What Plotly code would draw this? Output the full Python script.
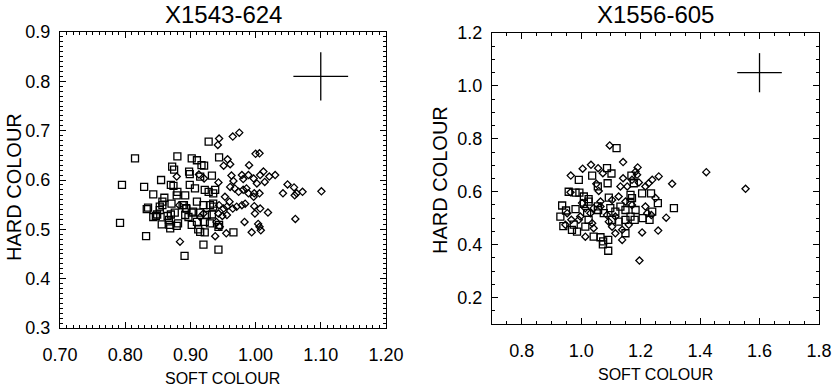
import plotly.graph_objects as go

# ---- X1543-624 (left) ----
left_sq_x = [0.815, 0.880, 0.795, 0.829, 0.843, 0.855, 0.872, 0.875, 0.870, 0.874, 0.899, 0.860,
             0.857, 0.835, 0.833, 0.849, 0.853, 0.847, 0.865, 0.870, 0.876, 0.867, 0.792, 0.832,
             0.891, 0.880, 0.892, 0.888, 0.893, 0.857, 0.856, 0.868, 0.869, 0.879, 0.881, 0.892,
             0.897, 0.902, 0.902, 0.890, 0.894, 0.853, 0.843, 0.871, 0.879, 0.899, 0.898,
             0.928, 0.944, 0.910, 0.917, 0.921, 0.933, 0.915, 0.907, 0.922, 0.928, 0.935, 0.938,
             0.910, 0.920, 0.930, 0.935, 0.904, 0.915, 0.925, 0.933, 0.910, 0.922, 0.930, 0.944,
             0.912, 0.915, 0.922, 0.943, 0.966, 0.920, 0.943, 0.902, 0.935]
left_sq_y = [0.644, 0.648, 0.590, 0.586, 0.571, 0.600, 0.627, 0.621, 0.590, 0.588, 0.612, 0.564,
             0.556, 0.544, 0.541, 0.530, 0.539, 0.527, 0.527, 0.530, 0.534, 0.519, 0.513, 0.486,
             0.446, 0.576, 0.569, 0.549, 0.543, 0.549, 0.510, 0.509, 0.502, 0.507, 0.512, 0.529,
             0.525, 0.509, 0.534, 0.549, 0.542, 0.546, 0.525, 0.552, 0.569, 0.590, 0.617,
             0.678, 0.646, 0.640, 0.630, 0.629, 0.609, 0.607, 0.583, 0.580, 0.576, 0.573, 0.580,
             0.556, 0.549, 0.549, 0.552, 0.536, 0.534, 0.529, 0.530, 0.515, 0.515, 0.512, 0.509,
             0.500, 0.495, 0.494, 0.505, 0.494, 0.469, 0.459, 0.644, 0.546]

left_di_x = [0.944, 0.942, 0.965, 0.975, 1.000, 1.006, 0.957, 0.961, 0.951, 0.990, 0.913, 0.921,
             0.963, 0.966, 0.979, 0.981, 0.989, 0.997, 1.007, 1.012, 1.021, 1.030, 1.049, 1.059,
             1.072, 1.060, 1.063, 1.042, 1.101, 1.061, 0.998, 1.007, 1.019, 0.983, 1.004, 1.006,
             1.008, 0.994, 0.938, 0.884, 0.879, 0.883, 0.961, 0.968, 0.974, 0.981, 0.986, 0.989,
             0.998, 1.006, 0.997, 1.014, 1.002, 0.943, 0.953, 0.960, 0.944, 0.951, 0.956, 0.965,
             0.971, 0.979, 0.984, 0.999, 0.943, 0.949, 0.940, 0.956, 0.955, 0.945, 0.915, 0.920]
left_di_y = [0.684, 0.671, 0.688, 0.696, 0.653, 0.654, 0.642, 0.632, 0.629, 0.630, 0.611, 0.603,
             0.609, 0.598, 0.610, 0.602, 0.610, 0.603, 0.610, 0.617, 0.607, 0.610, 0.591, 0.585,
             0.576, 0.569, 0.573, 0.573, 0.577, 0.521, 0.547, 0.542, 0.534, 0.515, 0.511, 0.505,
             0.498, 0.494, 0.486, 0.475, 0.607, 0.549, 0.586, 0.583, 0.576, 0.580, 0.583, 0.573,
             0.573, 0.573, 0.566, 0.596, 0.593, 0.595, 0.566, 0.556, 0.549, 0.542, 0.546, 0.542,
             0.546, 0.549, 0.552, 0.532, 0.532, 0.527, 0.515, 0.529, 0.492, 0.505, 0.525, 0.532]

left_err = dict(x=1.10, y=0.81, dx=0.042, dy=0.049)

# ---- X1556-605 (right) ----
right_sq_x = [1.119, 1.087, 1.037, 1.102, 0.992, 0.981, 0.994, 1.009, 1.025, 0.936, 0.930, 0.949,
              0.969, 0.986, 0.981, 1.009, 1.025, 1.014, 1.025, 1.042, 1.065, 1.073, 1.091, 1.091,
              1.089, 1.093, 1.056, 1.057, 1.076, 1.098, 1.115, 1.132, 1.149, 1.126, 1.104, 1.149,
              1.166, 1.169, 1.177, 1.166, 1.171, 1.166, 1.183, 1.180, 1.205, 1.235, 1.207, 1.230,
              1.239, 1.258, 1.312, 1.149, 0.958, 0.940, 0.975, 1.074, 1.056, 1.020]
right_sq_y = [0.765, 0.689, 0.661, 0.669, 0.645, 0.597, 0.597, 0.582, 0.572, 0.548, 0.506, 0.529,
              0.456, 0.449, 0.534, 0.554, 0.563, 0.468, 0.494, 0.430, 0.428, 0.401, 0.418, 0.377,
              0.632, 0.578, 0.620, 0.531, 0.519, 0.538, 0.525, 0.544, 0.531, 0.487, 0.494, 0.494,
              0.506, 0.661, 0.632, 0.588, 0.576, 0.557, 0.531, 0.494, 0.594, 0.594, 0.500, 0.494,
              0.525, 0.557, 0.538, 0.443, 0.600, 0.470, 0.476, 0.412, 0.545, 0.520]

right_di_x = [1.096, 1.141, 1.005, 1.033, 1.057, 1.073, 0.965, 0.964, 1.051, 1.059, 1.065, 1.141,
              1.190, 1.183, 1.188, 1.171, 1.194, 1.216, 1.227, 1.239, 1.261, 1.250, 1.306, 1.286,
              1.259, 1.236, 1.205, 1.196, 1.421, 1.553, 1.138, 1.115, 1.014, 0.953, 0.967, 0.947,
              1.003, 1.014, 1.037, 1.042, 1.104, 1.126, 1.149, 1.171, 1.104, 1.138, 1.160, 1.216,
              1.222, 1.065, 1.087, 0.992, 0.997, 1.132, 1.155, 1.115, 1.093, 1.031, 1.042]
right_di_y = [0.775, 0.712, 0.687, 0.702, 0.689, 0.670, 0.661, 0.598, 0.630, 0.603, 0.563, 0.651,
              0.692, 0.676, 0.664, 0.645, 0.635, 0.620, 0.632, 0.645, 0.658, 0.576, 0.630, 0.502,
              0.453, 0.512, 0.446, 0.340, 0.674, 0.611, 0.418, 0.443, 0.430, 0.519, 0.494, 0.475,
              0.557, 0.538, 0.481, 0.462, 0.569, 0.582, 0.563, 0.550, 0.468, 0.456, 0.475, 0.544,
              0.519, 0.544, 0.512, 0.494, 0.506, 0.620, 0.620, 0.506, 0.487, 0.519, 0.538]

right_err = dict(x=1.60, y=1.05, dx=0.075, dy=0.074)

titles = ["X1543-624", "X1556-605"]

FONT = "Liberation Sans, Arial, sans-serif"
W, H = 832, 388


def px(x):
    return x / W


def py(y):
    return (H - y) / H


fig = go.Figure()


def add_panel(xs_sq, ys_sq, xs_di, ys_di, err, xa, ya):
    fig.add_trace(go.Scatter(x=xs_sq, y=ys_sq, mode="markers", xaxis=xa, yaxis=ya,
                             marker=dict(symbol="square-open", size=7, color="black",
                                         line=dict(width=1.3, color="black"))))
    fig.add_trace(go.Scatter(x=xs_di, y=ys_di, mode="markers", xaxis=xa, yaxis=ya,
                             marker=dict(symbol="diamond-open", size=5.5, color="black",
                                         line=dict(width=1.3, color="black"))))
    fig.add_trace(go.Scatter(x=[err["x"]], y=[err["y"]], mode="markers", xaxis=xa, yaxis=ya,
                             marker=dict(size=0.1, color="black"),
                             error_x=dict(type="constant", value=err["dx"], width=0,
                                          thickness=1.3, color="black"),
                             error_y=dict(type="constant", value=err["dy"], width=0,
                                          thickness=1.3, color="black")))


add_panel(left_sq_x, left_sq_y, left_di_x, left_di_y, left_err, "x", "y")
add_panel(right_sq_x, right_sq_y, right_di_x, right_di_y, right_err, "x2", "y2")

ax_common = dict(showgrid=False, zeroline=False, showline=True, linecolor="black", linewidth=1,
                 mirror="allticks", ticks="inside", ticklen=6, tickwidth=1, tickcolor="black",
                 automargin=False,
                 tickfont=dict(family=FONT, size=18, color="black"))

fig.update_layout(
    width=W, height=H, showlegend=False,
    margin=dict(l=0, r=0, t=0, b=0),
    paper_bgcolor="white", plot_bgcolor="white",
    xaxis=dict(domain=[px(60), px(386)], range=[0.6999, 1.2001], dtick=0.1, tick0=0.7,
               tickformat=".2f", anchor="y", ticklabelstandoff=10,
               minor=dict(dtick=0.01, ticks="inside", ticklen=3, tickcolor="black"), **ax_common),
    yaxis=dict(domain=[py(328), py(32)], range=[0.2999, 0.9001], dtick=0.1, tick0=0.3,
               tickformat=".1f", anchor="x", ticklabelstandoff=5,
               minor=dict(dtick=0.01, ticks="inside", ticklen=3, tickcolor="black"), **ax_common),
    xaxis2=dict(domain=[px(492), px(819)], range=[0.7, 1.8001], dtick=0.2, tick0=0.8,
                tickformat=".1f", anchor="y2", ticklabelstandoff=10,
                minor=dict(dtick=0.05, ticks="inside", ticklen=3, tickcolor="black"), **ax_common),
    yaxis2=dict(domain=[py(324), py(33)], range=[0.1, 1.2001], dtick=0.2, tick0=0.2,
                tickformat=".1f", anchor="x2", ticklabelstandoff=5,
                minor=dict(dtick=0.05, ticks="inside", ticklen=3, tickcolor="black"), **ax_common),
)

annots = [
    dict(text=titles[0], x=px(223), y=1.0, yanchor="top", font=dict(size=24)),
    dict(text=titles[1], x=px(655), y=1.0, yanchor="top", font=dict(size=24)),
    dict(text="SOFT COLOUR", x=px(222), y=py(378), font=dict(size=16)),
    dict(text="SOFT COLOUR", x=px(655), y=py(374), font=dict(size=16)),
    dict(text="HARD COLOUR", x=px(14), y=py(187), textangle=-90, font=dict(size=20)),
    dict(text="HARD COLOUR", x=px(440), y=py(180), textangle=-90, font=dict(size=20)),
]
for a in annots:
    a["font"]["color"] = "black"
    a["font"]["family"] = FONT
    a.setdefault("yanchor", "middle")
    fig.add_annotation(xref="paper", yref="paper", showarrow=False, xanchor="center",
                       borderpad=0, **a)

# drop the default 8px page margin so the figure sits at the window corner
fig.write_html("out.html", config={"displayModeBar": False},
               post_script="document.body.style.margin = '0';")
